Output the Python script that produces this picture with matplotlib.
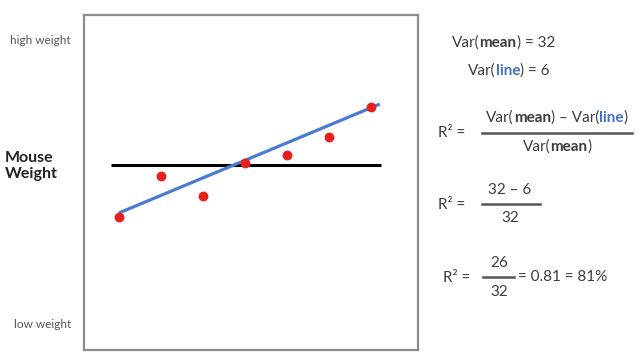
import matplotlib
matplotlib.use("Agg")
import matplotlib.pyplot as plt
from matplotlib.transforms import IdentityTransform
from matplotlib.lines import Line2D

# ---- data ----
mouse_x = [1, 2, 3, 4, 5, 6, 7]
mouse_weight = [3.97, 5.19, 4.60, 5.58, 5.82, 6.36, 7.25]
mean_x = [0.81, 7.24]
mean_y = [5.52, 5.52]
fit_x = [1.0, 7.21]
fit_y = [4.09, 7.34]
y_labels = ["low weight", "high weight"]
var_mean = 32
var_line = 6

W, H = 640, 362
fig = plt.figure(figsize=(W / 100, H / 100), dpi=100)
plt.rcParams['font.family'] = ['Lato', 'DejaVu Sans']

ax = fig.add_axes([84 / W, 1 - 350 / H, (418 - 84) / W, (350 - 15) / H])
ax.set_xlim(0.17, 8.12)
ax.set_ylim(0, 10)
ax.set_xticks([])
ax.set_yticks([])
for s in ax.spines.values():
    s.set_color('#8c8c8c')
    s.set_linewidth(1.6)

ax.plot(mean_x, mean_y, color='black', lw=2.2, solid_capstyle='butt', zorder=2)
ax.plot(fit_x, fit_y, color='#4a7bd4', lw=2.3, solid_capstyle='butt', zorder=3)
ax.scatter(mouse_x, mouse_weight, s=50, color='#e8201c', zorder=4, linewidths=0)

TXT = '#3c3c3c'
BLUE = '#4472c4'
ID = IdentityTransform()


def px(x, y):
    return x, H - y


# left labels
fig.text(*px(71, 40), y_labels[1], transform=ID, ha='right', va='center',
         fontsize=8.5, color='#555555')
fig.text(*px(71, 325), y_labels[0], transform=ID, ha='right', va='center',
         fontsize=8.5, color='#555555')
fig.text(*px(5, 166), "Mouse\nWeight", transform=ID, ha='left', va='center',
         fontsize=11.5, fontweight='bold', color='#222222', linespacing=1.25)

renderer = fig.canvas.get_renderer()
FS = 11


def width_of(s, w, fs):
    t1 = fig.text(0, 0, s + "H", transform=ID, fontsize=fs, fontweight=w)
    t2 = fig.text(0, 0, "H", transform=ID, fontsize=fs, fontweight=w)
    wd = t1.get_window_extent(renderer).width - t2.get_window_extent(renderer).width
    t1.remove()
    t2.remove()
    return wd


def runs(x, y, parts, ha='left', fs=FS):
    widths = [width_of(s, w, fs) for s, w, c in parts]
    total = sum(widths)
    X, Y = px(x, y)
    if ha == 'center':
        X -= total / 2
    elif ha == 'right':
        X -= total
    for (s, w, c), wd in zip(parts, widths):
        fig.text(X, Y, s, transform=ID, fontsize=fs, fontweight=w, color=c,
                 ha='left', va='center')
        X += wd


def bar(x0, x1, y):
    fig.add_artist(Line2D([x0 / W, x1 / W], [1 - y / H, 1 - y / H],
                          transform=fig.transFigure, color='#555555', lw=1.8))


runs(452, 43, [("Var(", 'normal', TXT), ("mean", 'bold', TXT), (f") = {var_mean}", 'normal', TXT)])
runs(468, 71, [("Var(", 'normal', TXT), ("line", 'bold', BLUE), (f") = {var_line}", 'normal', TXT)])

runs(438, 133, [("R² =", 'normal', TXT)])
runs(557, 118, [("Var(", 'normal', TXT), ("mean", 'bold', TXT), (") – Var(", 'normal', TXT),
                ("line", 'bold', BLUE), (")", 'normal', TXT)], ha='center')
bar(482, 632, 133)
runs(557, 147, [("Var(", 'normal', TXT), ("mean", 'bold', TXT), (")", 'normal', TXT)], ha='center')

runs(438, 205, [("R² =", 'normal', TXT)])
runs(510, 190, [(f"{var_mean} – {var_line}", 'normal', TXT)], ha='center')
bar(482, 540, 204)
runs(510, 218, [(f"{var_mean}", 'normal', TXT)], ha='center')

runs(443, 278, [("R² =", 'normal', TXT)])
runs(499, 263, [(f"{var_mean - var_line}", 'normal', TXT)], ha='center')
bar(483, 514, 277)
runs(499, 292, [(f"{var_mean}", 'normal', TXT)], ha='center')
r2 = (var_mean - var_line) / var_mean
runs(518, 277, [(f"= {r2:.2f} = {round(r2 * 100)}%", 'normal', TXT)])

fig.savefig("out.png", dpi=100)
